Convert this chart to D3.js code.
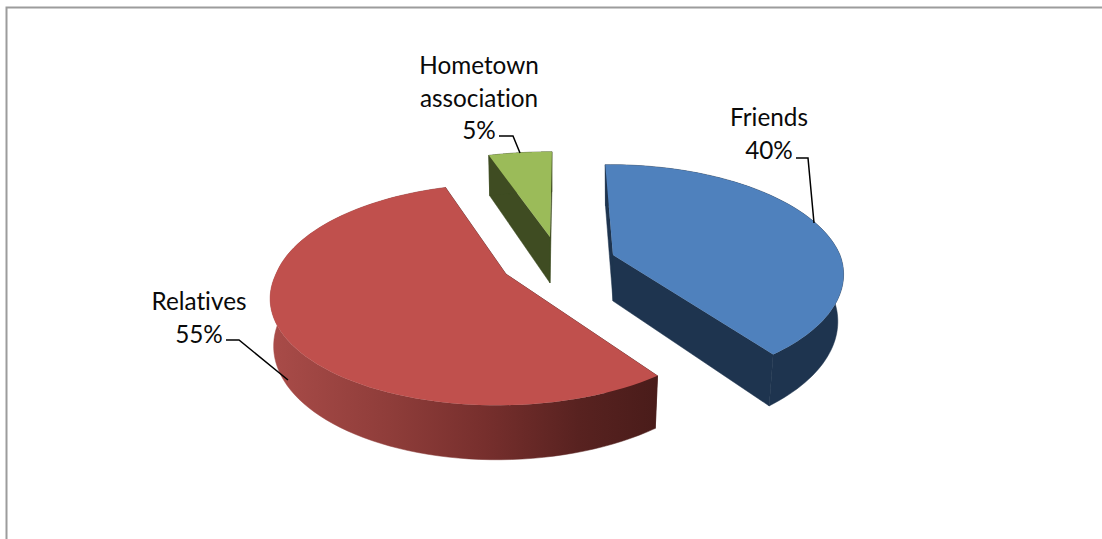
<!DOCTYPE html>
<html>
<head>
<meta charset="utf-8">
<script src="https://cdn.jsdelivr.net/npm/d3@7"></script>
<style>
  html, body { margin: 0; padding: 0; background: #fff; overflow: hidden; }
  text { font-family: Lato, "Open Sans", sans-serif; font-size: 24.3px; fill: #0a0a0a; text-anchor: middle; font-variant-ligatures: none; }
</style>
</head>
<body>
<svg id="chart" width="1102" height="539"></svg>
<script>
// Survey shares, in drawing order clockwise from twelve o'clock
const categories = ["Friends", "Relatives", "Hometown association"];
const shares = [40, 55, 5];
const labelLines = [["Friends", "40%"], ["Relatives", "55%"], ["Hometown", "association", "5%"]];

// Per-slice colours
const topColors = ["#4f81bd", "#c0504d", "#9bbb59"];
const wallColors = ["#1e344f", "url(#relativesWall)", "#3f4c22"];
const faceColors = ["#1e344f", "#4a1c1a", "#3f4c22"];

// Exploded position, disc radii, rotation, lean and thickness of each slice
const sliceLayout = [
  { x: 613, y: 255, rx: 227, ry: 107, rot: -1.5, leanBack: 0.012, leanFront: -0.01, depth: 46, shrink: 0.975 },
  { x: 506, y: 274, rx: 230, ry: 107, rot: 0, leanBack: 0, leanFront: -0.04, depth: 46, shrink: 0.985 },
  { x: 550, y: 237, rx: 240, ry: 101, rot: 0, leanBack: -0.008, leanFront: 0, depth: 46, shrink: 0.985 }
];

// Label anchors and leader polylines
const labelAnchors = [{ x: 769, y: 126 }, { x: 199, y: 310 }, { x: 479, y: 74 }];
const leaderPaths = [
  [[796, 158], [808, 158], [814, 223]],
  [[226, 340], [239, 340], [288, 380]],
  [[499, 136], [513, 136], [520, 153]]
];

const perspective = 0.185;  // foreshortening of the tilted disc
const lineHeight = 32.5;

const svg = d3.select("#chart");

// Wall shading on the large slice runs from lit left to dark right
const grad = svg.append("defs").append("linearGradient")
  .attr("id", "relativesWall")
  .attr("gradientUnits", "userSpaceOnUse")
  .attr("x1", 275).attr("x2", 655).attr("y1", 0).attr("y2", 0);
[[0, "#a84b48"], [0.3, "#8f3d3a"], [0.55, "#772f2d"], [0.8, "#582220"], [1, "#4a1c1a"]]
  .forEach(([o, c]) => grad.append("stop").attr("offset", o).attr("stop-color", c));

// Outer frame: top and left rules only
svg.append("path")
  .attr("d", "M1102,7.5H6.5V539")
  .attr("fill", "none").attr("stroke", "#9c9c9c").attr("stroke-width", 2);

const pie = d3.pie().sort(null).startAngle(0).endAngle(2 * Math.PI);
const arcs = pie(shares);

// Projects an angle on a slice's disc to the upper surface of the pie
function project(angle, radius, s) {
  const u = Math.sin(angle) * radius, v = -Math.cos(angle) * radius;
  const k = 1 / (1 - perspective * v);
  const lean = v < 0 ? s.leanBack * v : s.leanFront * v;
  return { k, x: s.x + s.rx * (u * k + lean), y: s.y + s.ry * v * k };
}
const topPoint = (a, r, s) => { const p = project(a, r, s); return [p.x, p.y]; };
const basePoint = (a, r, s) => {
  const p = project(a, r, s);
  return [s.x + (p.x - s.x) * s.shrink, s.y + (p.y - s.y) * s.shrink + s.depth * p.k];
};
const line = d3.line();
const sweep = (a0, a1) => d3.range(0, 1.0001, 1 / 90).map(d3.scaleLinear().domain([0, 1]).range([a0, a1]));

const slices = svg.selectAll("g.slice").data(arcs).join("g").attr("class", "slice");

slices.each(function (d, i) {
  const g = d3.select(this), s = sliceLayout[i];
  const off = s.rot * Math.PI / 180;
  const a0 = d.startAngle + off, a1 = d.endAngle + off;
  const angles = sweep(a0, a1);

  // two cut faces running in to the apex
  [a0, a1].forEach(a => {
    g.append("path")
      .attr("d", line([topPoint(a, 0, s), topPoint(a, 1, s), basePoint(a, 1, s), basePoint(a, 0, s)]) + "Z")
      .attr("fill", faceColors[i]).attr("stroke", faceColors[i]).attr("stroke-width", 0.5);
  });

  // outer wall between rim and underside
  g.append("path")
    .attr("d", line(angles.map(a => topPoint(a, 1, s)).concat(angles.slice().reverse().map(a => basePoint(a, 1, s)))) + "Z")
    .attr("fill", wallColors[i]).attr("stroke", wallColors[i]).attr("stroke-width", 0.5);

  // upper surface
  g.append("path")
    .attr("d", line([[s.x, s.y]].concat(angles.map(a => topPoint(a, 1, s)))) + "Z")
    .attr("fill", topColors[i]);
});

// Leader lines
svg.selectAll("path.leader").data(leaderPaths).join("path")
  .attr("class", "leader")
  .attr("d", line)
  .attr("fill", "none").attr("stroke", "#000").attr("stroke-width", 1.5);

// Category and share labels
svg.selectAll("text.label").data(labelLines).join("text")
  .attr("class", "label")
  .attr("transform", (d, i) => `translate(${labelAnchors[i].x},${labelAnchors[i].y})`)
  .selectAll("tspan").data(d => d).join("tspan")
  .attr("x", 0)
  .attr("y", (d, j) => j * lineHeight)
  .text(d => d);
</script>
</body>
</html>
